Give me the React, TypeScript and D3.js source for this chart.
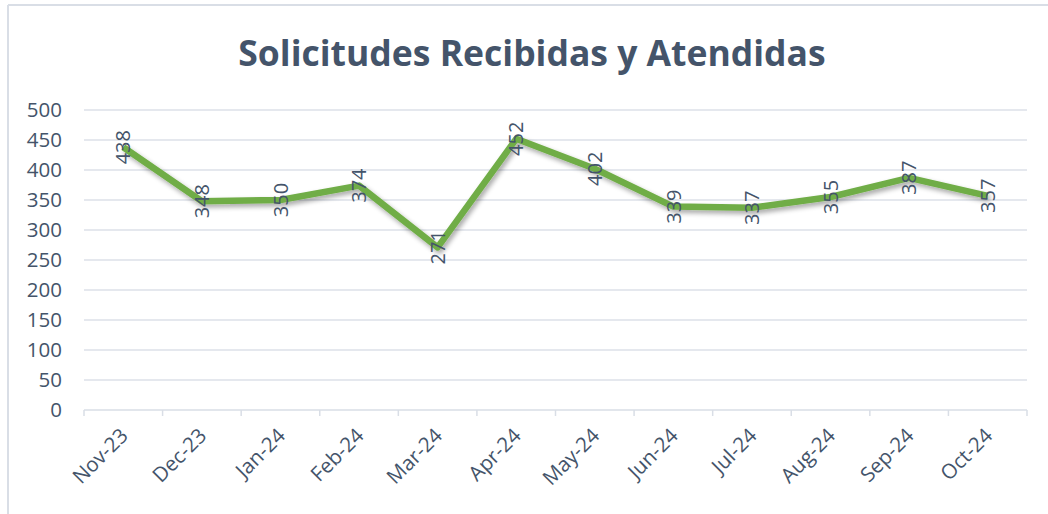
import React from "react";
import * as d3 from "d3";

const categories = ["Nov-23","Dec-23","Jan-24","Feb-24","Mar-24","Apr-24","May-24","Jun-24","Jul-24","Aug-24","Sep-24","Oct-24"];
const values = [438,348,350,374,271,452,402,339,337,355,387,357];
const yTicks = [0,50,100,150,200,250,300,350,400,450,500];
const title = "Solicitudes Recibidas y Atendidas";

const W = 1048, H = 514;
const M = { left: 84, right: 1027, top: 110, bottom: 410 };
const TEXT = "#44546A";
const FONT = "'Open Sans', sans-serif";

export default function App() {
  const x = d3.scaleBand<string>().domain(categories).range([M.left, M.right]);
  const y = d3.scaleLinear().domain([0, 500]).range([M.bottom, M.top]);
  const line = d3.line<number>()
    .x((_, i) => (x(categories[i]) as number) + x.bandwidth() / 2)
    .y((d) => y(d));
  const bounds = [...categories.map((c) => x(c) as number), M.right];

  return (
    <svg width={W} height={H} style={{ position: "absolute", left: 0, top: 0 }} xmlns="http://www.w3.org/2000/svg">
      <defs>
        <filter id="sh" x="-10%" y="-20%" width="120%" height="160%">
          <feGaussianBlur in="SourceAlpha" stdDeviation="2.5" />
          <feOffset dx="2" dy="3" result="b" />
          <feComponentTransfer><feFuncA type="linear" slope="0.35" /></feComponentTransfer>
          <feMerge><feMergeNode /><feMergeNode in="SourceGraphic" /></feMerge>
        </filter>
      </defs>
      <rect x={0} y={0} width={W} height={H} fill="#fff" />
      <line x1={8} x2={8} y1={5} y2={H} stroke="#D9DEE6" strokeWidth={2} />
      <line x1={8} x2={W} y1={5} y2={5} stroke="#D9DEE6" strokeWidth={2} />
      <text x={532} y={66} textAnchor="middle" fill={TEXT} fontFamily={FONT} fontWeight={700} fontSize={35.5}>{title}</text>
      {yTicks.map((t) => (
        <g key={t}>
          {t > 0 && <line x1={M.left} x2={M.right} y1={y(t)} y2={y(t)} stroke="#DDE1E8" strokeWidth={1.5} />}
          <text x={62} y={y(t)} dy="0.36em" textAnchor="end" fill={TEXT} fontFamily={FONT} fontSize={20.5}>{t}</text>
        </g>
      ))}
      <line x1={M.left} x2={M.right} y1={M.bottom} y2={M.bottom} stroke="#D9DEE6" strokeWidth={1.5} />
      {bounds.map((b, i) => (
        <line key={i} x1={b} x2={b} y1={M.bottom} y2={M.bottom + 6} stroke="#D9DEE6" strokeWidth={1.5} />
      ))}
      {categories.map((c) => {
        const cx = (x(c) as number) + x.bandwidth() / 2 + 6;
        const cy = M.bottom + 27;
        return (
          <text key={c} transform={`translate(${cx},${cy}) rotate(-45)`} textAnchor="end" fill={TEXT} fontFamily={FONT} fontSize={20.5}>{c}</text>
        );
      })}
      <path d={line(values) || ""} fill="none" stroke="#70AD47" strokeWidth={6.5} strokeLinejoin="round" filter="url(#sh)" />
      {values.map((v, i) => {
        const cx = (x(categories[i]) as number) + x.bandwidth() / 2;
        const cy = y(v);
        return (
          <text key={i} transform={`translate(${cx},${cy}) rotate(-90)`} textAnchor="middle" dy="0.36em" fill={TEXT} fontFamily={FONT} fontSize={20}>{v}</text>
        );
      })}
    </svg>
  );
}
